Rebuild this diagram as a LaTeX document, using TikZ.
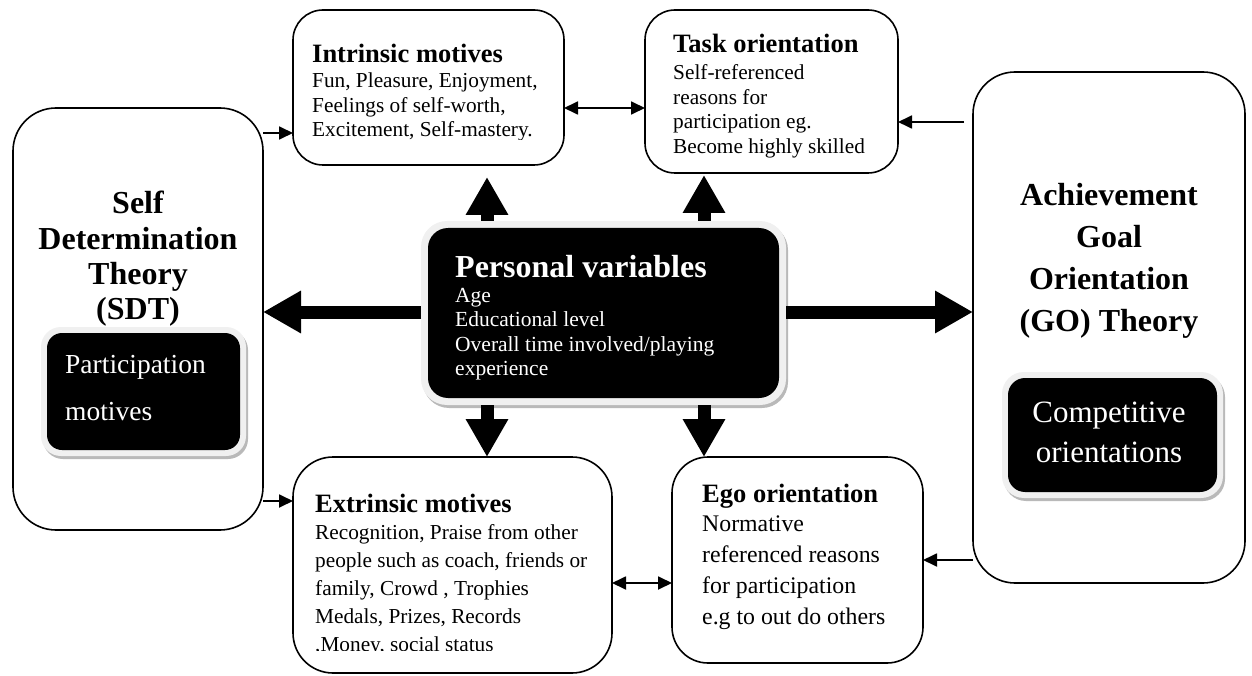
\documentclass[tikz,border=0pt]{standalone}
\usepackage{fontspec}
\setmainfont{Liberation Serif}
\usetikzlibrary{arrows.meta,shadows}
\begin{document}
\begin{tikzpicture}[x=1pt,y=-1pt,
  wbox/.style={draw=black, line width=1.6pt, rounded corners=#1, fill=white, inner sep=0pt, outer sep=0pt},
  wbox/.default=30pt,
  glowbox/.style={fill=gray!12, rounded corners=#1, inner sep=0pt, outer sep=0pt,
     drop shadow={shadow xshift=2pt, shadow yshift=-3pt, fill=gray!55, opacity=1}},
  glowbox/.default=24pt,
  blackbox/.style={fill=black, rounded corners=#1, inner sep=0pt, outer sep=0pt},
  blackbox/.default=20pt,
  head/.style={font=\fontsize{26.5}{30}\selectfont\bfseries, anchor=base west, inner sep=0pt},
  body/.style={font=\fontsize{21.3}{24.5}\selectfont, anchor=base west, inner sep=0pt, align=left},
  title/.style={font=\fontsize{32}{#1}\selectfont\bfseries, anchor=base, inner sep=0pt, align=center},
  bigarrow/.style={line width=13pt, -{Triangle[width=40pt,length=38pt]}},
  smallarrow/.style={line width=1.8pt, -{Triangle[width=13pt,length=14pt]}},
  dblarrow/.style={line width=1.8pt, {Triangle[width=13pt,length=14pt]}-{Triangle[width=13pt,length=14pt]}}
]
\useasboundingbox (0,0) rectangle (1252,676);

% outer theory boxes
\node[wbox=43pt, minimum width=250pt, minimum height=422pt] (sdt) at (138,319) {};
\node[wbox=42pt, minimum width=272pt, minimum height=511pt] (go) at (1109,327.5) {};

% motive / orientation boxes
\node[wbox=30pt, minimum width=271pt, minimum height=155pt] (intr) at (428.5,87.5) {};
\node[wbox=30pt, minimum width=253pt, minimum height=163pt] (task) at (771.5,91.5) {};
\node[wbox=40pt, minimum width=319pt, minimum height=216pt] (extr) at (452.5,565) {};
\node[wbox=36pt, minimum width=251pt, minimum height=206pt] (ego) at (797.5,560) {};

% black boxes with glow
\node[glowbox=26pt, minimum width=365pt, minimum height=184pt] (pvg) at (603.5,313) {};
\node[blackbox=20pt, minimum width=351pt, minimum height=170pt] (pv) at (603.5,313) {};
\node[glowbox=20pt, minimum width=205pt, minimum height=129pt] (pmg) at (143.5,391.5) {};
\node[blackbox=15pt, minimum width=193pt, minimum height=117pt] (pm) at (143.5,391.5) {};
\node[glowbox=22pt, minimum width=221pt, minimum height=126pt] (cog) at (1112.5,435) {};
\node[blackbox=17pt, minimum width=209pt, minimum height=114pt] (co) at (1112.5,435) {};

% texts (multi-line nodes are anchored at the baseline of their last line)
\node[head] (intrH) at (312,63) {Intrinsic motives};
\begin{scope}
  \clip (295,70) rectangle (562,139.5);
  \node[body] (intrB) at (312,137) {Fun, Pleasure, Enjoyment,\\Feelings of self-worth,\\Excitement, Self-mastery.};
\end{scope}
\node[head] (taskH) at (673,53) {Task orientation};
\node[body] (taskB) at (673,153.5) {Self-referenced\\reasons for\\participation eg.\\Become highly skilled};
\node[head] (extrH) at (315,512) {Extrinsic motives};
\begin{scope}
  \clip (295,515) rectangle (610,650.5);
  \node[body, font=\fontsize{21.3}{28}\selectfont] (extrB) at (315,651) {Recognition, Praise from other\\people such as coach, friends or\\family, Crowd , Trophies\\Medals, Prizes, Records\\,Money, social status};
\end{scope}
\node[head] (egoH) at (702,502) {Ego orientation};
\node[body, font=\fontsize{23.8}{31}\selectfont] (egoB) at (702,624) {Normative\\referenced reasons\\for participation\\e.g to out do others};

\node[head, font=\fontsize{32}{36}\selectfont\bfseries, text=white] (pvH) at (455,277) {Personal variables};
\node[body, font=\fontsize{21.5}{24.5}\selectfont, text=white] (pvB) at (455,375.5) {Age\\Educational level\\Overall time involved/playing\\experience};

\node[title=35pt] (sdtT) at (138,319) {Self\\Determination\\Theory\\(SDT)};
\node[title=42pt] (goT) at (1109,331) {Achievement\\Goal\\Orientation\\(GO) Theory};

\node[body, font=\fontsize{27.5}{47}\selectfont, text=white] (pmT) at (65,420) {Participation\\motives};
\node[font=\fontsize{31}{40}\selectfont, text=white, anchor=base, inner sep=0pt, align=center] (coT) at (1109,462) {Competitive\\orientations};

% thick arrows from personal variables
\coordinate (tm) at (0,312);
\coordinate (upL) at (487,177);
\coordinate (upR) at (704,175);
\draw[bigarrow] (pvg.west |- tm) -- (sdt.east |- tm);
\draw[bigarrow] (pvg.east |- tm) -- (go.west |- tm);
\draw[bigarrow] (pvg.north -| upL) -- (upL);
\draw[bigarrow] (pvg.north -| upR) -- (upR);
\draw[bigarrow] (pvg.south -| upL) -- (extr.north -| upL);
\draw[bigarrow] (pvg.south -| upR) -- (ego.north -| upR);

% thin arrows
\coordinate (a1) at (0,133);
\coordinate (a2) at (0,501);
\coordinate (a3) at (0,108);
\coordinate (a4) at (964,122);
\coordinate (a5) at (0,583);
\coordinate (a6) at (0,560);
\draw[smallarrow] (sdt.east |- a1) -- (intr.west |- a1);
\draw[smallarrow] (sdt.east |- a2) -- (extr.west |- a2);
\draw[dblarrow] (intr.east |- a3) -- (task.west |- a3);
\draw[smallarrow] (a4) -- (task.east |- a4);
\draw[dblarrow] (extr.east |- a5) -- (ego.west |- a5);
\draw[smallarrow] (go.west |- a6) -- (ego.east |- a6);
\end{tikzpicture}
\end{document}
